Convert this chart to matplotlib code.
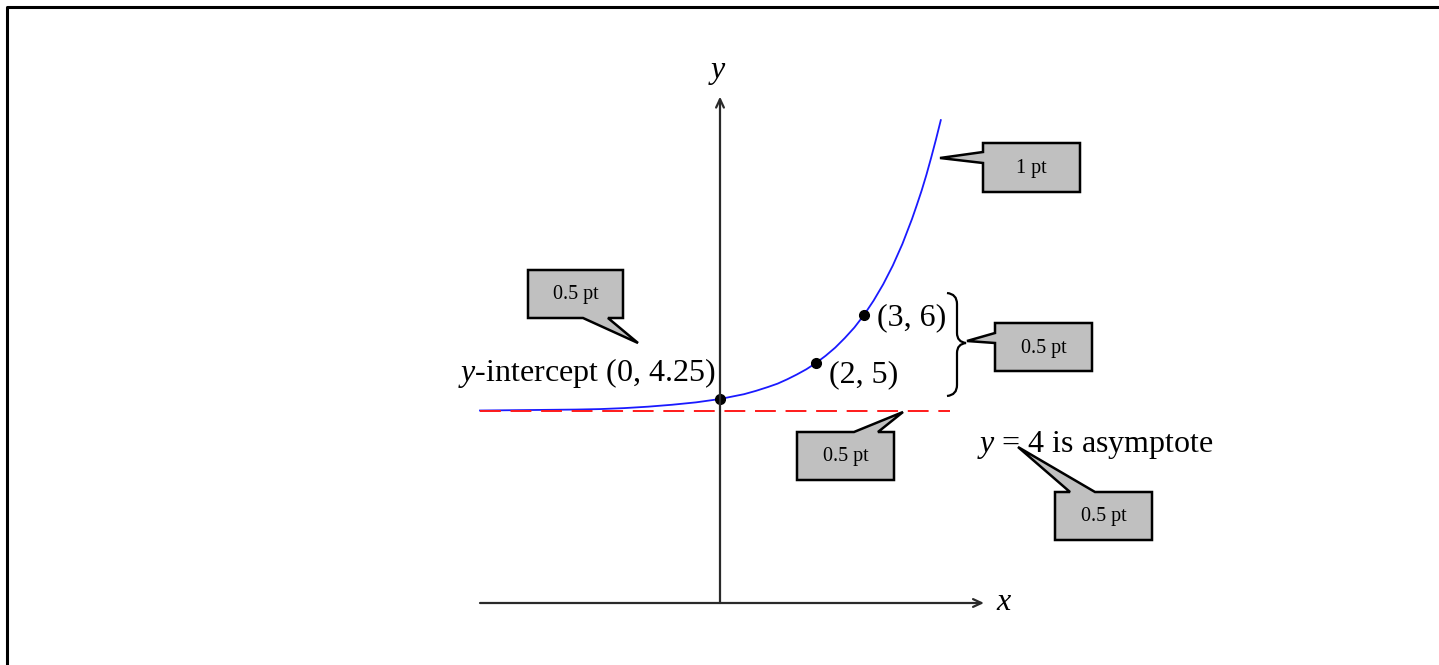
import numpy as np
import matplotlib
matplotlib.use("Agg")
import matplotlib.pyplot as plt
from matplotlib.path import Path
from matplotlib.patches import PathPatch, Polygon

plt.rcParams['font.family'] = ['Liberation Serif', 'DejaVu Serif']
plt.rcParams['mathtext.fontset'] = 'custom'
plt.rcParams['mathtext.rm'] = 'Liberation Serif'
plt.rcParams['mathtext.it'] = 'Liberation Serif:italic'
plt.rcParams['lines.scale_dashes'] = False

# curve values
curve_x = [-5, -4, -3, -2.5, -2, -1.5, -1, -0.5, 0, 0.25, 0.5, 0.75, 1,
           1.2, 1.4, 1.6, 1.8, 2, 2.2, 2.4, 2.6, 2.8, 3, 3.2, 3.4, 3.6,
           3.8, 4, 4.1, 4.2, 4.3, 4.4, 4.5, 4.6]
curve_y = [4.01, 4.02, 4.03, 4.04, 4.06, 4.09, 4.13, 4.18, 4.25, 4.30, 4.35,
           4.42, 4.5, 4.57, 4.66, 4.76, 4.87, 5.0, 5.15, 5.32, 5.52, 5.74,
           6.0, 6.30, 6.64, 7.03, 7.48, 8.0, 8.29, 8.59, 8.92, 9.28, 9.66,
           10.06]

# labelled points
pts_x = [0, 2, 3]
pts_y = [4.25, 5, 6]
pt_labels = [r'$y$-intercept (0, 4.25)', '(2, 5)', '(3, 6)']

asym_y = 4
asym_x = [-5, 4.8]
x_range = [-5, 5.5]
y_range = [0, 10.55]

W, H = 1439, 665
fig = plt.figure(figsize=(W / 100, H / 100), dpi=100)

# pixel overlay for frame and callouts
ax0 = fig.add_axes([0, 0, 1, 1])
ax0.set_xlim(0, W)
ax0.set_ylim(H, 0)
ax0.axis('off')

# data axes, 48 px per unit, origin at px (720, 603)
ax = fig.add_axes([0, 0, 1, 1])
ax.set_xlim(-720 / 48, (W - 720) / 48)
ax.set_ylim((603 - H) / 48, 603 / 48)
ax.axis('off')
ax.patch.set_visible(False)

# frame (left and top only)
ax0.plot([7, 7, W], [H, 7, 7], color='black', lw=2.2, solid_capstyle='butt')

# axes with arrows
arrow = dict(arrowstyle='->,head_length=0.6,head_width=0.28', color='#2a2a2a',
             lw=1.6, shrinkA=0, shrinkB=0)
ax.annotate('', xy=(x_range[1], 0), xytext=(x_range[0], 0), arrowprops=arrow)
ax.annotate('', xy=(0, y_range[1]), xytext=(0, y_range[0]), arrowprops=arrow)
ax.text(x_range[1] + 0.42, 0, r'$x$', fontsize=23, ha='center', va='center')
ax.text(-0.05, y_range[1] + 0.5, r'$y$', fontsize=23, ha='center', va='center')

# curve and asymptote
ax.plot(curve_x, curve_y, color='#1a1aff', lw=1.3)
ax.plot(asym_x, [asym_y, asym_y], color='#ff1a1a', lw=1.4, dashes=(15, 7))

ax.plot(pts_x, pts_y, 'o', color='black', ms=7)

# point labels (px positions)
ax0.text(715, 381, pt_labels[0], fontsize=23, ha='right', va='baseline')
ax0.text(829, 382, pt_labels[1], fontsize=23, ha='left', va='baseline')
ax0.text(877, 325, pt_labels[2], fontsize=23, ha='left', va='baseline')
ax0.text(977, 452, r'$y$ = 4 is asymptote', fontsize=23, ha='left',
         va='baseline')

# right curly brace
brace = [
    (947, 293), (957, 294), (957, 304),
    (957, 333),
    (957, 342), (966, 343),
    (957, 344), (957, 353),
    (957, 385),
    (957, 395), (947, 396),
]
codes = [Path.MOVETO, Path.CURVE3, Path.CURVE3, Path.LINETO,
         Path.CURVE3, Path.CURVE3, Path.CURVE3, Path.CURVE3,
         Path.LINETO, Path.CURVE3, Path.CURVE3]
ax0.add_patch(PathPatch(Path(brace, codes), fill=False, lw=1.6,
                        edgecolor='black'))


def callout(x0, y0, x1, y1, side, a, b, tip, label):
    # box with a wedge pointer on one side, px coordinates
    if side == 'left':
        pts = [(x0, y0), (x1, y0), (x1, y1), (x0, y1), (x0, b), tip, (x0, a)]
    elif side == 'bottom':
        pts = [(x0, y0), (x1, y0), (x1, y1), (b, y1), tip, (a, y1), (x0, y1)]
    else:  # top
        pts = [(x0, y0), (a, y0), tip, (b, y0), (x1, y0), (x1, y1), (x0, y1)]
    ax0.add_patch(Polygon(pts, closed=True, facecolor='#c0c0c0',
                          edgecolor='black', lw=1.8, joinstyle='miter'))
    ax0.text((x0 + x1) / 2, (y0 + y1) / 2 + 1, label, fontsize=14.5,
             ha='center', va='center')


callout(983, 143, 1080, 192, 'left', 152, 163, (940, 158), '1 pt')
callout(528, 270, 623, 318, 'bottom', 583, 608, (638, 343), '0.5 pt')
callout(995, 323, 1092, 371, 'left', 333, 343, (967, 341), '0.5 pt')
callout(797, 432, 894, 480, 'top', 854, 878, (903, 412), '0.5 pt')
callout(1055, 492, 1152, 540, 'top', 1070, 1095, (1018, 447), '0.5 pt')

fig.savefig('out.png', dpi=100)
